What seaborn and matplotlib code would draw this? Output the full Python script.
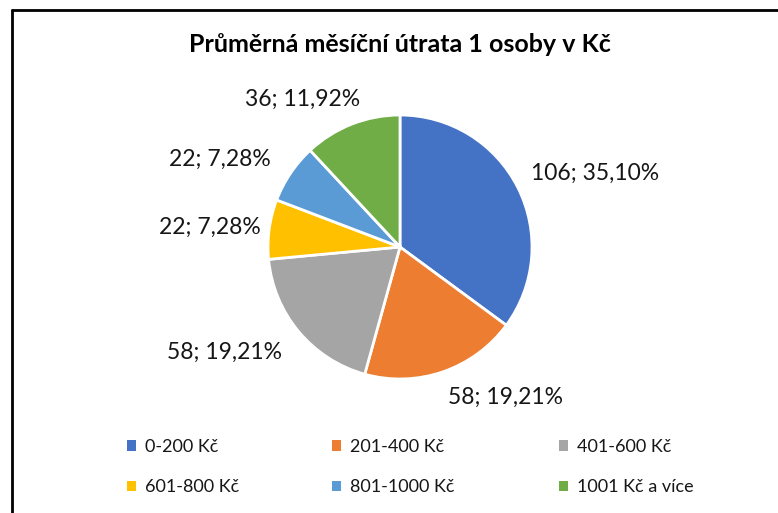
import matplotlib
matplotlib.use("Agg")
import matplotlib.pyplot as plt
from matplotlib.patches import Patch
from matplotlib.lines import Line2D
import numpy as np
import seaborn as sns

sns.set_theme(style="white")
plt.rcParams['font.family'] = ['Lato', 'DejaVu Sans']

# data
categories = ["0-200 Kč", "201-400 Kč", "401-600 Kč", "601-800 Kč", "801-1000 Kč", "1001 Kč a více"]
counts = [106, 58, 58, 22, 22, 36]
colors = ["#4472C4", "#ED7D31", "#A5A5A5", "#FFC000", "#5B9BD5", "#70AD47"]
title = "Průměrná měsíční útrata 1 osoby v Kč"

total = sum(counts)
labels = [f"{c}; {c / total * 100:.2f}%".replace(".", ",") for c in counts]
txt_color = "#161616"

W, H = 778, 513
fig = plt.figure(figsize=(W / 100, H / 100), dpi=100)

# pie axes: center (400, 247) px, radius 132 px (pie limits +-1.25)
r = 132
side = 2.5 * r
ax = fig.add_axes([(400 - side / 2) / W, (H - 247 - side / 2) / H, side / W, side / H])

wedges, _ = ax.pie(counts, colors=colors, startangle=90, counterclock=False,
                   wedgeprops=dict(edgecolor="white", linewidth=2))

# data labels placed outside, roughly like Excel best fit
label_dist = [1.58, 1.39, 1.55, 1.45, 1.52, 1.34]
label_shift = [-6, 16, -9, 2, 8, 12]  # degrees
for w, lab, d, s in zip(wedges, labels, label_dist, label_shift):
    ang = np.deg2rad((w.theta1 + w.theta2) / 2 + s)
    ax.text(d * np.cos(ang), d * np.sin(ang), lab, ha="center", va="center",
            fontsize=16.5, color=txt_color)

fig.text(400 / W, 1 - 45 / H, title, ha="center", va="center",
         fontsize=18, fontweight="bold", color="#000000")

# legend: 3 columns, row-major order like Excel
col_x = [127, 332, 559]
for j in range(3):
    idx = [j, j + 3]
    fig.legend([Patch(facecolor=colors[i], edgecolor="none") for i in idx],
               [categories[i] for i in idx], loc="center left",
               bbox_to_anchor=(col_x[j] / W, 1 - 467 / H), frameon=False,
               fontsize=13, handlelength=0.5, handleheight=0.5, handletextpad=0.5,
               labelspacing=1.35, labelcolor=txt_color, borderpad=0, borderaxespad=0)

# chart border (left and top edges visible)
fig.add_artist(Line2D([12 / W, 12 / W], [0, 1 - 10 / H], color="black", lw=2))
fig.add_artist(Line2D([12 / W, 1], [1 - 10 / H, 1 - 10 / H], color="black", lw=2))

fig.savefig("out.png", dpi=100)
